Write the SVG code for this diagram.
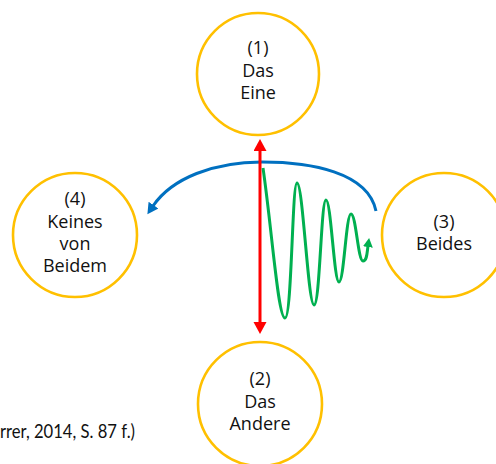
<svg xmlns="http://www.w3.org/2000/svg" width="496" height="464" viewBox="0 0 496 464">
  <style>
    .node circle { fill: #fff; stroke: #FFC000; stroke-width: 2.6; }
    .node text { font-family: "Open Sans", "Liberation Sans", sans-serif; font-size: 18px; fill: #111; text-anchor: middle; }
    .cite { font-family: Lato, "Liberation Sans", sans-serif; font-size: 18.5px; fill: #111; }
  </style>
  <defs>
    <marker id="head-red" markerUnits="userSpaceOnUse" markerWidth="14" markerHeight="14" refX="1" refY="6.5" orient="auto-start-reverse">
      <path d="M0,0 L12,6.5 L0,13 Z" fill="#FF0000"/>
    </marker>
    <marker id="head-blue" markerUnits="userSpaceOnUse" markerWidth="14" markerHeight="14" refX="1" refY="6" orient="auto">
      <path d="M0,0 L11,6 L0,12 Z" fill="#0070C0"/>
    </marker>
    <marker id="head-green" markerUnits="userSpaceOnUse" markerWidth="12" markerHeight="12" refX="1" refY="5" orient="auto">
      <path d="M0,0 L9,5 L0,10 Z" fill="#00B050"/>
    </marker>
  </defs>

  <g id="node-1" class="node">
    <circle cx="258" cy="74" r="61"/>
    <text x="258" y="54">(1)</text>
    <text x="258" y="77">Das</text>
    <text x="258" y="99">Eine</text>
  </g>

  <g id="node-2" class="node">
    <circle cx="260" cy="404" r="62"/>
    <text x="260" y="385">(2)</text>
    <text x="260" y="408">Das</text>
    <text x="260" y="430">Andere</text>
  </g>

  <g id="node-3" class="node">
    <circle cx="444" cy="235" r="62"/>
    <text x="444" y="228">(3)</text>
    <text x="444" y="250">Beides</text>
  </g>

  <g id="node-4" class="node">
    <circle cx="75" cy="235" r="62"/>
    <text x="75" y="205">(4)</text>
    <text x="75" y="228">Keines</text>
    <text x="75" y="250">von</text>
    <text x="75" y="272">Beidem</text>
  </g>

  <g id="connectors" fill="none" stroke-width="3">
    <!-- blue arc from "Beides" over to "Keines von Beidem" -->
    <path d="M376,211 C368,172 310,162 262,162 C214,162 172,178 153,206" stroke="#0070C0" marker-end="url(#head-blue)"/>
    <!-- red double arrow between "Das Eine" and "Das Andere" -->
    <path d="M260,150 L260,323" stroke="#FF0000" marker-start="url(#head-red)" marker-end="url(#head-red)"/>
    <!-- green damped oscillation settling towards "Beides" -->
    <path d="M263,168 C272,230 278,318 285,318 C292,318 292,183 297,183 C303,183 308,305 314,305 C320,305 321,200 326,200 C331,200 334,282 339,282 C344,282 346,214 351,214 C356,214 358,261 363,261 C367,261 367,253 368,246" stroke="#00B050" marker-end="url(#head-green)"/>
  </g>

  <text class="cite" x="0" y="438" textLength="135" lengthAdjust="spacingAndGlyphs">rrer, 2014, S. 87 f.)</text>
</svg>
